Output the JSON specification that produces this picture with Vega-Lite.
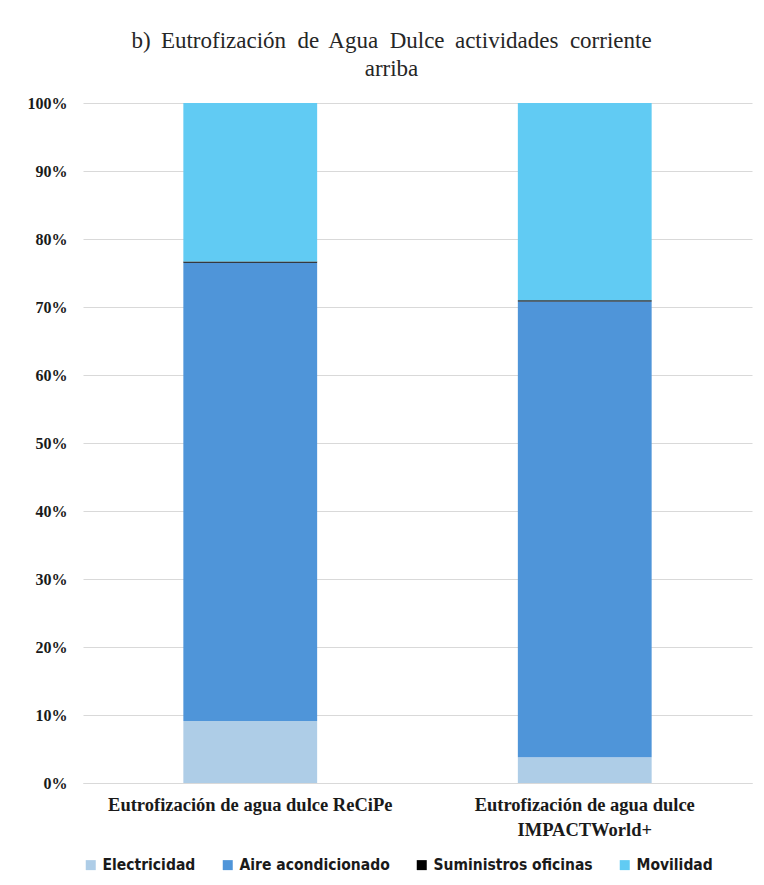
{
  "$schema": "https://vega.github.io/schema/vega-lite/v6.json",
  "width": 669,
  "height": 680,
  "autosize": {"type": "none"},
  "padding": {"left": 83, "top": 103, "right": 12, "bottom": 102},
  "background": "white",
  "title": {
    "text": ["b)\u2009 Eutrofización\u00a0 de\u2009 Agua\u00a0 Dulce\u2009 actividades\u00a0 corriente", "arriba"],
    "font": "Liberation Serif",
    "fontSize": 23,
    "fontWeight": "normal",
    "color": "#262626",
    "lineHeight": 28,
    "anchor": "middle",
    "frame": "group",
    "dx": -26,
    "offset": 14
  },
  "data": {
    "values": [
      {"metodo": "Eutrofización de agua dulce ReCiPe", "actividad": "Electricidad", "orden": 1, "pct": 9.1},
      {"metodo": "Eutrofización de agua dulce ReCiPe", "actividad": "Aire acondicionado", "orden": 2, "pct": 67.4},
      {"metodo": "Eutrofización de agua dulce ReCiPe", "actividad": "Suministros oficinas", "orden": 3, "pct": 0.2},
      {"metodo": "Eutrofización de agua dulce ReCiPe", "actividad": "Movilidad", "orden": 4, "pct": 23.3},
      {"metodo": "Eutrofización de agua dulce IMPACTWorld+", "actividad": "Electricidad", "orden": 1, "pct": 3.8},
      {"metodo": "Eutrofización de agua dulce IMPACTWorld+", "actividad": "Aire acondicionado", "orden": 2, "pct": 67.0},
      {"metodo": "Eutrofización de agua dulce IMPACTWorld+", "actividad": "Suministros oficinas", "orden": 3, "pct": 0.2},
      {"metodo": "Eutrofización de agua dulce IMPACTWorld+", "actividad": "Movilidad", "orden": 4, "pct": 29.0}
    ]
  },
  "mark": {"type": "bar"},
  "encoding": {
    "x": {
      "field": "metodo",
      "type": "nominal",
      "sort": null,
      "scale": {"paddingInner": 0.6, "paddingOuter": 0.3},
      "axis": {
        "title": null,
        "labelAngle": 0,
        "ticks": false,
        "domainColor": "#d9d9d9",
        "domainWidth": 1,
        "labelFont": "Liberation Serif",
        "labelFontSize": 18.5,
        "labelFontWeight": "bold",
        "labelColor": "#1a1a1a",
        "labelPadding": 12,
        "labelLimit": 400,
        "labelLineHeight": 25,
        "labelExpr": "datum.label == 'Eutrofización de agua dulce IMPACTWorld+' ? ['Eutrofización de agua dulce', 'IMPACTWorld+'] : datum.label"
      }
    },
    "y": {
      "field": "pct",
      "type": "quantitative",
      "stack": "zero",
      "scale": {"domain": [0, 100], "nice": false},
      "axis": {
        "title": null,
        "values": [0, 10, 20, 30, 40, 50, 60, 70, 80, 90, 100],
        "labelExpr": "datum.value + '%'",
        "ticks": false,
        "domain": false,
        "grid": true,
        "gridColor": "#d9d9d9",
        "gridWidth": 1,
        "labelFont": "Liberation Serif",
        "labelFontSize": 16,
        "labelFontWeight": "bold",
        "labelColor": "#1a1a1a",
        "labelPadding": 16
      }
    },
    "color": {
      "field": "actividad",
      "type": "nominal",
      "scale": {
        "domain": ["Electricidad", "Aire acondicionado", "Suministros oficinas", "Movilidad"],
        "range": ["#aecde7", "#4f95d9", "#000000", "#61cbf3"]
      },
      "legend": {
        "title": null,
        "orient": "none",
        "direction": "horizontal",
        "legendX": 0,
        "legendY": 754,
        "symbolType": "square",
        "symbolSize": 100,
        "symbolStrokeWidth": 0,
        "labelFont": "DejaVu Sans Condensed, sans-serif",
        "labelFontSize": 15.5,
        "labelFontWeight": "bold",
        "labelColor": "#1a1a1a",
        "labelOffset": 4,
        "columnPadding": 24,
        "labelLimit": 300
      }
    },
    "order": {"field": "orden", "type": "quantitative"}
  },
  "config": {
    "view": {"stroke": null}
  }
}
